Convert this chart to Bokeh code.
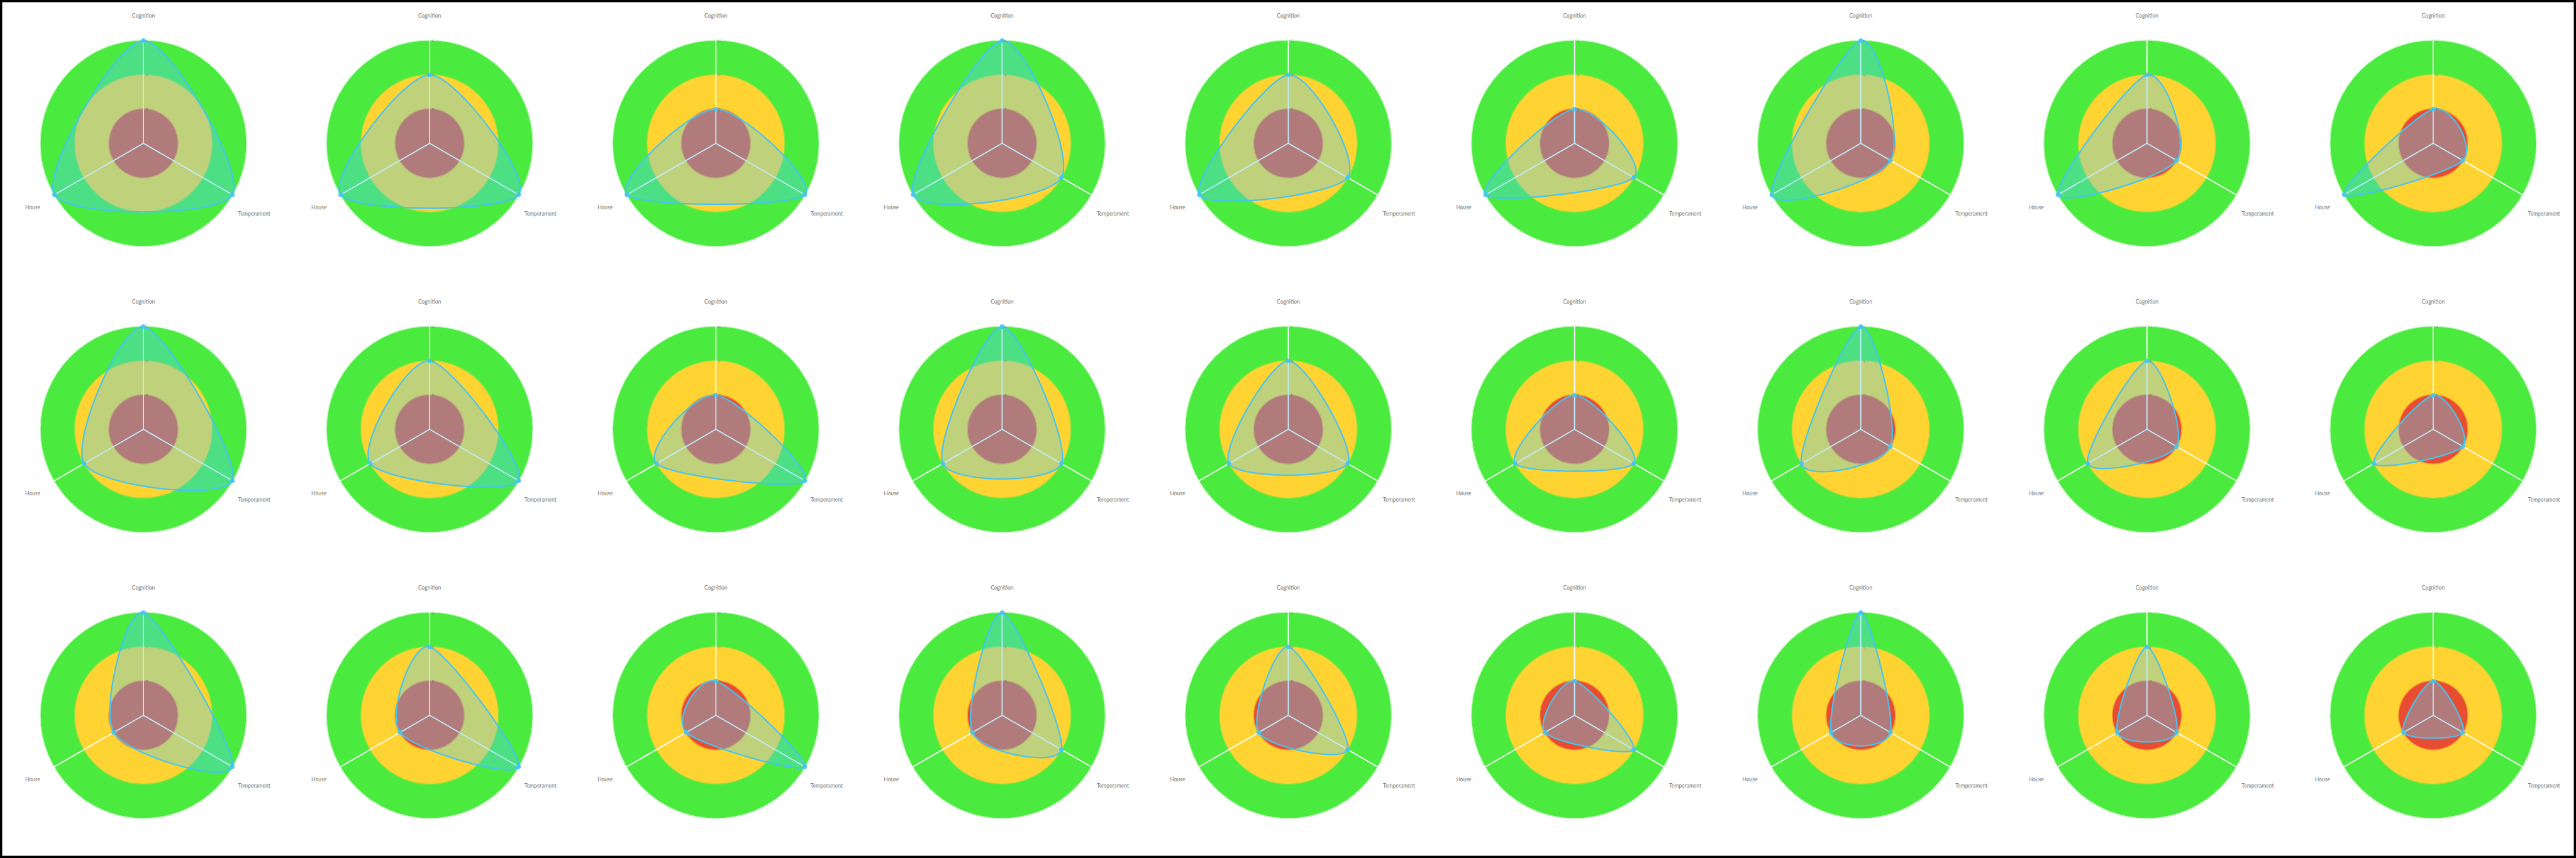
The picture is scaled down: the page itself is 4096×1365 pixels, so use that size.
import numpy as np
from bokeh.plotting import figure
from bokeh.models import Range1d
from bokeh.embed import file_html
from bokeh.resources import INLINE
from bokeh.core.properties import value

# ---------------- data ----------------
axis_names = ["Cognition", "Temperament", "House"]
level_names = ["R", "Y", "G"]
level_values = [1, 2, 3]

# one entry per small radar chart, row by row (9 per row, 3 rows)
cognition = [3, 2, 1, 3, 2, 1, 3, 2, 1,
             3, 2, 1, 3, 2, 1, 3, 2, 1,
             3, 2, 1, 3, 2, 1, 3, 2, 1]
temperament = [3, 3, 3, 2, 2, 2, 1, 1, 1,
               3, 3, 3, 2, 2, 2, 1, 1, 1,
               3, 3, 3, 2, 2, 2, 1, 1, 1]
house = [3, 3, 3, 3, 3, 3, 3, 3, 3,
         2, 2, 2, 2, 2, 2, 2, 2, 2,
         1, 1, 1, 1, 1, 1, 1, 1, 1]

# ---------------- styling / layout ----------------
GREEN, YELLOW, RED = "#4BEA3F", "#FFD432", "#E84D32"
BLOB = "#4FCDFF"
BLOB_LINE = "#44C4F4"
TEXT = "#737373"

W, H = 4096, 1365
REF_W, REF_H = 4513.0, 1504.0
NCOL, NROW = 9, 3
CW, CH = REF_W / NCOL, REF_H / NROW
UNIT = 60.0           # reference pixels per level
MAXV = 3
ANG = np.array([0.0, 2 * np.pi / 3, 4 * np.pi / 3])  # clockwise from top

p = figure(width=W, height=H, x_range=Range1d(0, REF_W),
           y_range=Range1d(0, REF_H), output_backend="svg",
           toolbar_location=None, x_axis_type=None, y_axis_type=None,
           min_border=0, background_fill_color="white",
           border_fill_color="white")
p.grid.visible = False
p.outline_line_color = "black"
p.outline_line_width = 6

n = len(cognition)
cx = np.array([CW * (k % NCOL + 0.5) for k in range(n)])
cy = np.array([REF_H - CH * (k // NCOL + 0.5) for k in range(n)])

# rings
for lv, col in zip([3, 2, 1], [GREEN, YELLOW, RED]):
    p.circle(x=cx, y=cy, radius=lv * UNIT, fill_color=col, line_color=col,
             line_alpha=0.35, line_width=3)

# axis lines
axs, ays = [], []
for k in range(n):
    for a in ANG:
        axs.append([cx[k], cx[k] + MAXV * UNIT * np.sin(a)])
        ays.append([cy[k], cy[k] + MAXV * UNIT * np.cos(a)])
p.multi_line(xs=axs, ys=ays, line_color="white", line_width=1.8)

# blobs (closed cardinal spline)
def cardinal_closed(px, py, tension=0.1, steps=40):
    m = len(px)
    k = (1 - tension) / 6.0
    outx, outy = [], []
    t = np.linspace(0, 1, steps, endpoint=False)
    for i in range(m):
        p0 = np.array([px[(i - 1) % m], py[(i - 1) % m]])
        p1 = np.array([px[i], py[i]])
        p2 = np.array([px[(i + 1) % m], py[(i + 1) % m]])
        p3 = np.array([px[(i + 2) % m], py[(i + 2) % m]])
        c1 = p1 + k * (p2 - p0)
        c2 = p2 - k * (p3 - p1)
        b = ((1 - t) ** 3)[:, None] * p1 + (3 * (1 - t) ** 2 * t)[:, None] * c1 \
            + (3 * (1 - t) * t ** 2)[:, None] * c2 + (t ** 3)[:, None] * p2
        outx.extend(b[:, 0]); outy.extend(b[:, 1])
    outx.append(outx[0]); outy.append(outy[0])
    return outx, outy

bxs, bys, dx, dy = [], [], [], []
for k in range(n):
    vals = [cognition[k], temperament[k], house[k]]
    px = [cx[k] + v * UNIT * np.sin(a) for v, a in zip(vals, ANG)]
    py = [cy[k] + v * UNIT * np.cos(a) for v, a in zip(vals, ANG)]
    sx, sy = cardinal_closed(px, py)
    bxs.append(sx); bys.append(sy)
    dx.extend(px); dy.extend(py)

p.patches(xs=bxs, ys=bys, fill_color=BLOB, fill_alpha=0.36,
          line_color=BLOB_LINE, line_width=2.2, line_join="round")
p.circle(x=dx, y=dy, radius=4, fill_color=BLOB_LINE, line_color=None,
         fill_alpha=0.9)

# level labels on the top axis
lx, ly, lt = [], [], []
for k in range(n):
    for lv, nm in zip(level_values, level_names):
        lx.append(cx[k] + 4); ly.append(cy[k] + lv * UNIT); lt.append(nm)
p.text(x=lx, y=ly, text=lt, text_font=value("Lato"), text_font_size="6px",
       text_color=TEXT, text_alpha=0.8, text_baseline="middle",
       text_align="left")

# axis name labels
offs = {"Cognition": (0, 224), "Temperament": (194, -123), "House": (-194, -112)}
tx, ty, tt = [], [], []
for k in range(n):
    for nm in axis_names:
        ox, oy = offs[nm]
        tx.append(cx[k] + ox); ty.append(cy[k] + oy); tt.append(nm)
p.text(x=tx, y=ty, text=tt, text_font=value("Lato"), text_font_size="8.5px",
       text_color=TEXT, text_baseline="middle", text_align="center")

open("out.html", "w").write(file_html(p, INLINE))
